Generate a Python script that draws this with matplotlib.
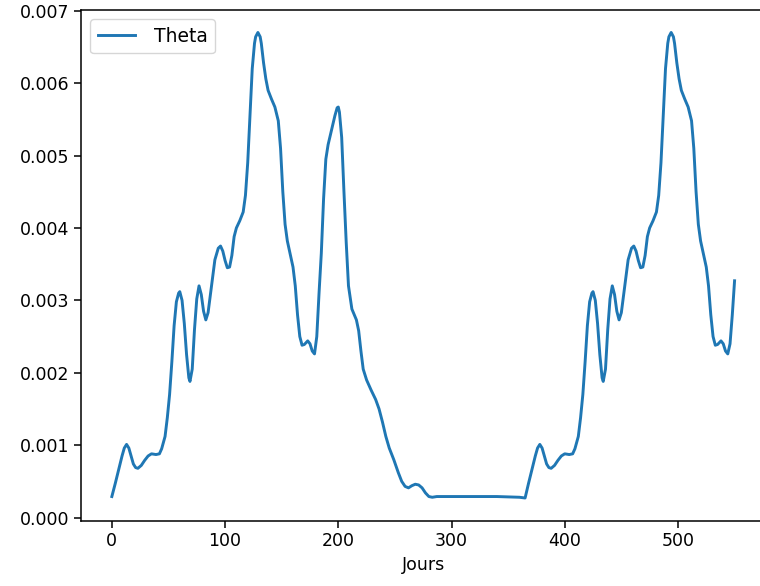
import numpy as np
import matplotlib
matplotlib.use("Agg")
import matplotlib.pyplot as plt

# Theta values (units of 1e-3), first year
days_y1 = [0, 3, 6, 9, 11, 13, 15, 17, 19, 21, 23, 26, 29, 32, 35, 39, 42, 44, 47, 49,
           51, 53, 55, 57, 59, 60, 62, 64, 66, 68, 69, 71, 73, 75, 77, 79, 81, 83, 85, 88,
           91, 94, 96, 98, 100, 102, 104, 106, 108, 110, 113, 116, 118, 120, 122, 124, 126, 127, 129, 131,
           132, 134, 136, 138, 141, 144, 147, 149, 151, 153, 155, 158, 160, 162, 164, 166, 168, 170, 173, 175, 177,
           179, 181, 183, 185, 187, 189, 191, 194, 197, 199, 200, 201, 203, 205, 207, 209, 212, 216, 218, 220,
           222, 225, 229, 233, 236, 239, 242, 245, 249, 253, 256, 259, 262, 265, 268, 271, 274, 277, 280, 283,
           287, 300, 320, 340, 360, 365]
theta_y1 = [0.29, 0.47, 0.66, 0.85, 0.96, 1.01, 0.96, 0.85, 0.74, 0.69, 0.68, 0.72, 0.79, 0.85, 0.88, 0.87, 0.88, 0.95, 1.12, 1.38,
            1.70, 2.15, 2.65, 2.98, 3.10, 3.12, 3.00, 2.68, 2.25, 1.93, 1.88, 2.05, 2.60, 3.02, 3.20, 3.08, 2.85, 2.73, 2.83, 3.20,
            3.56, 3.72, 3.75, 3.68, 3.55, 3.45, 3.46, 3.62, 3.88, 4.00, 4.10, 4.22, 4.45, 4.90, 5.55, 6.20, 6.55, 6.64, 6.70, 6.64,
            6.55, 6.28, 6.06, 5.90, 5.78, 5.67, 5.48, 5.10, 4.50, 4.05, 3.82, 3.60, 3.46, 3.20, 2.80, 2.50, 2.38, 2.39, 2.44, 2.40, 2.30,
            2.26, 2.50, 3.10, 3.65, 4.40, 4.95, 5.15, 5.35, 5.55, 5.66, 5.67, 5.60, 5.25, 4.50, 3.80, 3.20, 2.88, 2.73, 2.58, 2.30,
            2.05, 1.90, 1.76, 1.63, 1.50, 1.32, 1.12, 0.96, 0.80, 0.62, 0.50, 0.43, 0.41, 0.44, 0.46, 0.45, 0.41, 0.34, 0.29, 0.28,
            0.29, 0.29, 0.29, 0.29, 0.28, 0.27]

# second year (until day 550)
days_y2 = [368, 371, 374, 376, 378, 380, 382, 384, 386, 388, 391, 394, 397, 400, 404, 407, 409, 412, 414, 416,
           418, 420, 422, 424, 425, 427, 429, 431, 433, 434, 436, 438, 440, 442, 444, 446, 448, 450, 453, 456,
           459, 461, 463, 465, 467, 469, 471, 473, 475, 478, 481, 483, 485, 487, 489, 491, 492, 494, 496, 497, 499,
           501, 503, 506, 509, 512, 514, 516, 518, 520, 523, 525, 527, 529, 531, 533, 535, 538, 540, 542, 544,
           546, 548, 550]
theta_y2 = [0.47, 0.66, 0.85, 0.96, 1.01, 0.96, 0.85, 0.74, 0.69, 0.68, 0.72, 0.79, 0.85, 0.88, 0.87, 0.88, 0.95, 1.12, 1.38, 1.70,
            2.15, 2.65, 2.98, 3.10, 3.12, 3.00, 2.68, 2.25, 1.93, 1.88, 2.05, 2.60, 3.02, 3.20, 3.08, 2.85, 2.73, 2.83, 3.20, 3.56,
            3.72, 3.75, 3.68, 3.55, 3.45, 3.46, 3.62, 3.88, 4.00, 4.10, 4.22, 4.45, 4.90, 5.55, 6.20, 6.55, 6.64, 6.70, 6.64, 6.55, 6.28,
            6.06, 5.90, 5.78, 5.67, 5.48, 5.10, 4.50, 4.05, 3.82, 3.60, 3.46, 3.20, 2.80, 2.50, 2.38, 2.39, 2.44, 2.40, 2.30, 2.26,
            2.40, 2.80, 3.27]

days = np.array(days_y1 + days_y2)
theta = np.array(theta_y1 + theta_y2) * 1e-3

plt.rcParams['font.size'] = 12.5

fig = plt.figure(figsize=(7.6, 5.86), dpi=100)
# axes runs past the right edge, as in the cropped reference
ax = fig.add_axes([0.1062, 0.1114, 0.9013, 0.8715])
ax.plot(days, theta, color='#1f77b4', lw=2.1, label='Theta')
ax.set_xlim(-27.5, 577.5)
ax.set_ylim(-0.000044, 0.00701)
ax.set_yticks(np.arange(0, 0.0071, 0.001))
ax.yaxis.set_major_formatter(matplotlib.ticker.FormatStrFormatter('%.3f'))
ax.set_xlabel('Jours')
for s in ax.spines.values():
    s.set_linewidth(1.1)
ax.tick_params(width=1.1, length=4.8)
ax.legend(loc='upper left', fontsize=13.5, handletextpad=1.0)

fig.savefig('out.png', dpi=100)
